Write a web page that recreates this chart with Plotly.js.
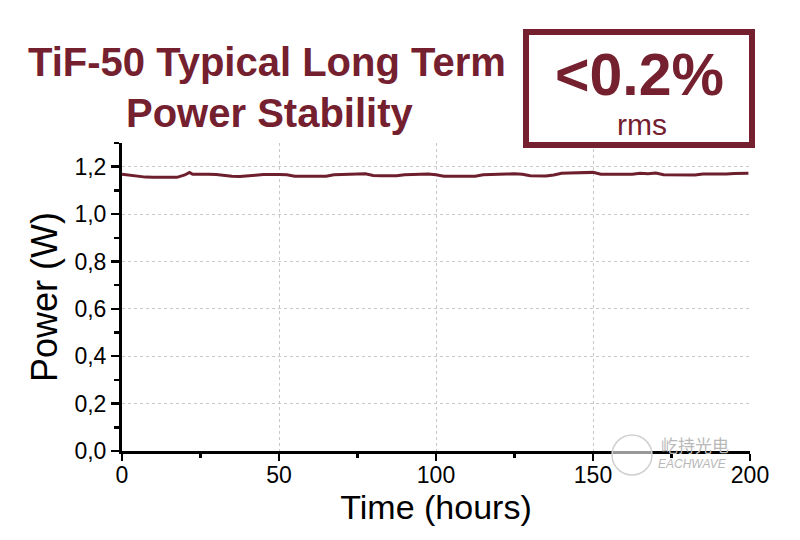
<!DOCTYPE html>
<html>
<head>
<meta charset="utf-8">
<script src="https://cdn.plot.ly/plotly-3.0.1.min.js"></script>
<style>html,body{margin:0;padding:0;background:#fff;}#chart{width:800px;height:540px;}</style>
</head>
<body>
<div id="chart"></div>
<script>
const timeHours = [0,2.5,5,7.5,10,12.5,15,17.5,20,21.5,22.5,25,27.5,30,32.5,35,37.5,40,42.5,45,47.5,50,52.5,55,57.5,60,62.5,65,67.5,70,72.5,75,77.5,80,82.5,85,87.5,90,92.5,95,97.5,100,102.5,105,107.5,110,112.5,115,117.5,120,122.5,125,127.5,130,132.5,135,137.5,140,142.5,145,147.5,150,152.5,155,157.5,160,162.5,165,167.5,170,172.5,175,177.5,180,182.5,185,187.5,190,192.5,195,197.5,199.5];
const powerW = [1.168,1.163,1.158,1.156,1.155,1.154,1.153,1.155,1.165,1.176,1.168,1.169,1.168,1.167,1.162,1.160,1.159,1.160,1.164,1.167,1.168,1.167,1.166,1.160,1.160,1.159,1.159,1.160,1.166,1.168,1.168,1.169,1.170,1.163,1.162,1.162,1.162,1.166,1.168,1.168,1.169,1.166,1.160,1.160,1.159,1.159,1.160,1.166,1.168,1.169,1.169,1.170,1.168,1.162,1.161,1.161,1.165,1.172,1.173,1.174,1.175,1.176,1.168,1.167,1.167,1.168,1.168,1.172,1.170,1.173,1.166,1.165,1.165,1.164,1.165,1.169,1.168,1.170,1.169,1.171,1.171,1.172];
const xTickVals = [0,50,100,150,200];
const xTickText = ['0','50','100','150','200'];
const yTickVals = [0,0.2,0.4,0.6,0.8,1.0,1.2];
const yTickText = ['0,0','0,2','0,4','0,6','0,8','1,0','1,2'];

const W=800,H=540,L=122,R=50,T=143,B=89;
const pw=W-L-R, ph=H-T-B;
const px=x=>(x-L)/pw, py=y=>(H-B-y)/ph;
const maroon='#74202f';
const font='Liberation Sans, Arial, sans-serif';

const trace={x:timeHours,y:powerW,type:'scatter',mode:'lines',line:{color:'#6e1f2d',width:3},hoverinfo:'skip'};

const layout={
  width:W,height:H,margin:{l:L,r:R,t:T,b:B},
  paper_bgcolor:'#fff',plot_bgcolor:'#fff',showlegend:false,
  font:{family:font,color:'#000'},
  xaxis:{range:[0,200],tickvals:xTickVals,ticktext:xTickText,showline:true,linecolor:'#000',linewidth:3,
    ticks:'outside',ticklen:7,tickwidth:2.5,tickcolor:'#000',tickfont:{size:23,family:font},ticklabelstandoff:-6,
    showgrid:true,gridcolor:'#c8c8c8',griddash:'dot',gridwidth:1,zeroline:false,
    minor:{dtick:25,tick0:0,ticks:'outside',ticklen:4,tickwidth:2.5,tickcolor:'#000',showgrid:false},
    title:{text:'Time (hours)',font:{size:34,family:font,color:'#000'},standoff:0}},
  yaxis:{range:[0,1.3],tickvals:yTickVals,ticktext:yTickText,showline:true,linecolor:'#000',linewidth:3,
    ticks:'outside',ticklen:8,tickwidth:2.5,tickcolor:'#000',tickfont:{size:23,family:font},
    showgrid:true,gridcolor:'#c8c8c8',griddash:'dot',gridwidth:1,zeroline:false,
    minor:{dtick:0.1,tick0:0,ticks:'outside',ticklen:5,tickwidth:2.5,tickcolor:'#000',showgrid:false},
    title:{text:'Power (W)',font:{size:36,family:font,color:'#000'},standoff:6}},
  shapes:[
    {type:'rect',xref:'paper',yref:'paper',x0:px(526),x1:px(752),y0:py(145),y1:py(32),line:{color:maroon,width:6},fillcolor:'rgba(0,0,0,0)'},
    {type:'circle',xref:'paper',yref:'paper',x0:px(612),x1:px(652),y0:py(475),y1:py(435),line:{color:'#d0d0d0',width:1.5},fillcolor:'rgba(255,255,255,0.6)'}
  ],
  annotations:[
    {xref:'paper',yref:'paper',x:px(267),y:py(62),text:'<b>TiF-50 Typical Long Term</b>',showarrow:false,font:{size:40,family:font,color:maroon},xanchor:'center',yanchor:'middle'},
    {xref:'paper',yref:'paper',x:px(269),y:py(113),text:'<b>Power Stability</b>',showarrow:false,font:{size:40,family:font,color:maroon},xanchor:'center',yanchor:'middle'},
    {xref:'paper',yref:'paper',x:px(639),y:py(75),text:'<b>&lt;0.2%</b>',showarrow:false,font:{size:59,family:font,color:maroon},xanchor:'center',yanchor:'middle'},
    {xref:'paper',yref:'paper',x:px(642),y:py(125),text:'rms',showarrow:false,font:{size:30,family:font,color:maroon},xanchor:'center',yanchor:'middle'},
    {xref:'paper',yref:'paper',x:px(695),y:py(444),text:'屹持光电',showarrow:false,font:{size:17,family:'Noto Sans CJK SC',color:'#b8b8b8'},xanchor:'center',yanchor:'middle'},
    {xref:'paper',yref:'paper',x:px(692),y:py(464),text:'<i>EACHWAVE</i>',showarrow:false,font:{size:12,family:font,color:'#b8b8b8'},xanchor:'center',yanchor:'middle'}
  ]
};
Plotly.newPlot('chart',[trace],layout,{displayModeBar:false,staticPlot:true});
</script>
</body>
</html>
